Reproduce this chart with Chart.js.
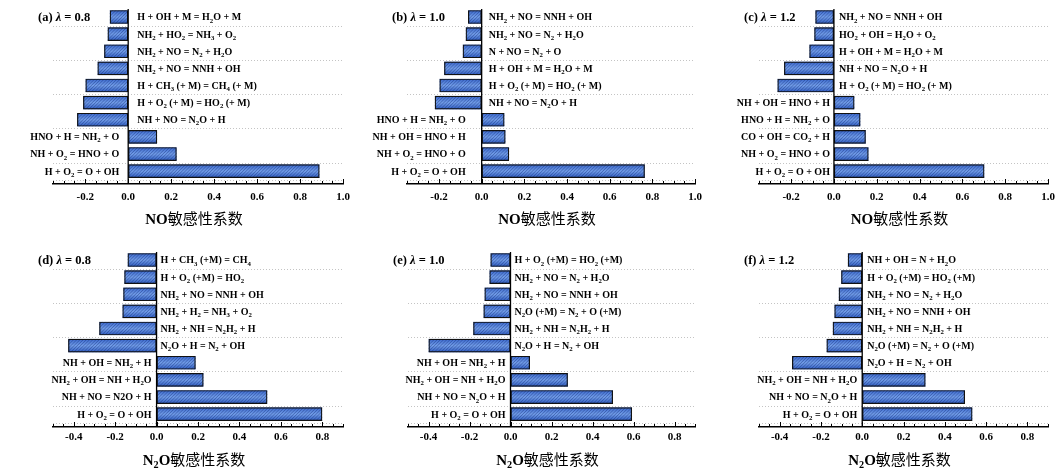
<!DOCTYPE html>
<html>
<head>
<meta charset="utf-8">
<script src="https://cdn.jsdelivr.net/npm/chart.js@4.4.1/dist/chart.umd.min.js"></script>
<style>
html, body { margin: 0; padding: 0; background: #fff; overflow: hidden; }
#wrap { position: relative; width: 1058px; height: 470px; }
#wrap canvas { position: absolute; left: 0; top: 0; }
</style>
</head>
<body>
<div id="wrap">
  <canvas id="pa" width="1058" height="470"></canvas>
  <canvas id="pb" width="1058" height="470"></canvas>
  <canvas id="pc" width="1058" height="470"></canvas>
  <canvas id="pd" width="1058" height="470"></canvas>
  <canvas id="pe" width="1058" height="470"></canvas>
  <canvas id="pf" width="1058" height="470"></canvas>
</div>
<script>
// --- Data (each list reads top bar -> bottom bar, "_x" = subscript) ---
const labelsA = ['H + OH + M = H_2O + M', 'NH_2 + HO_2 = NH_3 + O_2', 'NH_2 + NO = N_2 + H_2O', 'NH_2 + NO = NNH + OH',
  'H + CH_3 (+ M) = CH_4 (+ M)', 'H + O_2 (+ M) = HO_2 (+ M)', 'NH + NO = N_2O + H', 'HNO + H = NH_2 + O',
  'NH + O_2 = HNO + O', 'H + O_2 = O + OH'];
const valuesA = [-0.086, -0.096, -0.112, -0.143, -0.199, -0.21, -0.238, 0.135, 0.226, 0.891];

const labelsB = ['NH_2 + NO = NNH + OH', 'NH_2 + NO = N_2 + H_2O', 'N + NO = N_2 + O', 'H + OH + M = H_2O + M',
  'H + O_2 (+ M) = HO_2 (+ M)', 'NH + NO = N_2O + H', 'HNO + H = NH_2 + O', 'NH + OH = HNO + H',
  'NH + O_2 = HNO + O', 'H + O_2 = O + OH'];
const valuesB = [-0.064, -0.075, -0.089, -0.176, -0.198, -0.22, 0.107, 0.112, 0.129, 0.765];

const labelsC = ['NH_2 + NO = NNH + OH', 'HO_2 + OH = H_2O + O_2', 'H + OH + M = H_2O + M', 'NH + NO = N_2O + H',
  'H + O_2 (+ M) = HO_2 (+ M)', 'NH + OH = HNO + H', 'HNO + H = NH_2 + O', 'CO + OH = CO_2 + H',
  'NH + O_2 = HNO + O', 'H + O_2 = O + OH'];
const valuesC = [-0.087, -0.092, -0.115, -0.233, -0.264, 0.096, 0.124, 0.149, 0.162, 0.703];

const labelsD = ['H + CH_3 (+M) = CH_4', 'H + O_2 (+M) = HO_2', 'NH_2 + NO = NNH + OH', 'NH_2 + H_2 = NH_3 + O_2',
  'NH_2 + NH = N_2H_2 + H', 'N_2O + H = N_2 + OH', 'NH + OH = NH_2 + H', 'NH_2 + OH = NH + H_2O',
  'NH + NO = N2O + H', 'H + O_2 = O + OH'];
const valuesD = [-0.14, -0.156, -0.161, -0.165, -0.277, -0.427, 0.189, 0.227, 0.535, 0.80];

const labelsE = ['H + O_2 (+M) = HO_2 (+M)', 'NH_2 + NO = N_2 + H_2O', 'NH_2 + NO = NNH + OH', 'N_2O (+M) = N_2 + O (+M)',
  'NH_2 + NH = N_2H_2 + H', 'N_2O + H = N_2 + OH', 'NH + OH = NH_2 + H', 'NH_2 + OH = NH + H_2O',
  'NH + NO = N_2O + H', 'H + O_2 = O + OH'];
const valuesE = [-0.098, -0.103, -0.127, -0.132, -0.182, -0.40, 0.095, 0.28, 0.50, 0.593];

const labelsF = ['NH + OH = N + H_2O', 'H + O_2 (+M) = HO_2 (+M)', 'NH_2 + NO = N_2 + H_2O', 'NH_2 + NO = NNH + OH',
  'NH_2 + NH = N_2H_2 + H', 'N_2O (+M) = N_2 + O (+M)', 'N_2O + H = N_2 + OH', 'NH_2 + OH = NH + H_2O',
  'NH + NO = N_2O + H', 'H + O_2 = O + OH'];
const valuesF = [-0.07, -0.102, -0.114, -0.135, -0.143, -0.173, -0.34, 0.307, 0.498, 0.534];

const panelTags = ['(a)', '(b)', '(c)', '(d)', '(e)', '(f)'];
const lambdas = ['0.8', '1.0', '1.2', '0.8', '1.0', '1.2'];
const xTicksNO = [-0.2, 0.0, 0.2, 0.4, 0.6, 0.8, 1.0];
const xTicksN2O = [-0.4, -0.2, 0.0, 0.2, 0.4, 0.6, 0.8];
const xTitleNO = 'NO敏感性系数';
const xTitleN2O = 'N_2O敏感性系数';

// --- Layout ---
const W = 1058, H = 470;
const gridRows = [-0.5, 0.5, 2.5, 4.5, 6.5, 8.5];
const row1 = { top: 5, bottom: 184, tickPad: 7, titleDy: 35 };
const row2 = { top: 248, bottom: 427, tickPad: 4, titleDy: 33 };
const AXIS_H = 20;

const panels = [
  { id: 'pa', labels: labelsA, values: valuesA, ticks: xTicksNO, xmin: -0.35, xmax: 1.0, title: xTitleNO, left: 53, right: 343, row: row1, gapPos: 9, gapNeg: 9 },
  { id: 'pb', labels: labelsB, values: valuesB, ticks: xTicksNO, xmin: -0.35, xmax: 1.0, title: xTitleNO, left: 407, right: 695, row: row1, gapPos: 16, gapNeg: 7 },
  { id: 'pc', labels: labelsC, values: valuesC, ticks: xTicksNO, xmin: -0.35, xmax: 1.0, title: xTitleNO, left: 759, right: 1048, row: row1, gapPos: 4, gapNeg: 5 },
  { id: 'pd', labels: labelsD, values: valuesD, ticks: xTicksN2O, xmin: -0.5, xmax: 0.9, title: xTitleN2O, left: 53, right: 343, row: row2, gapPos: 5, gapNeg: 4 },
  { id: 'pe', labels: labelsE, values: valuesE, ticks: xTicksN2O, xmin: -0.5, xmax: 0.9, title: xTitleN2O, left: 408, right: 695, row: row2, gapPos: 5, gapNeg: 4 },
  { id: 'pf', labels: labelsF, values: valuesF, ticks: xTicksN2O, xmin: -0.5, xmax: 0.9, title: xTitleN2O, left: 759, right: 1048, row: row2, gapPos: 5, gapNeg: 5 }
];

// draw text with "_x" subscripts, italic lambda and CJK runs
function drawRich(ctx, text, x, y, size, align) {
  const segs = [];
  for (let i = 0; i < text.length; i++) {
    const ch = text[i];
    if (ch === '_') { segs.push({ t: text[i + 1], sub: true }); i++; continue; }
    const cjk = ch.charCodeAt(0) > 0x2e80;
    const ital = ch === 'λ';
    const last = segs[segs.length - 1];
    if (last && !last.sub && last.cjk === cjk && last.ital === ital) last.t += ch;
    else segs.push({ t: ch, sub: false, cjk: cjk, ital: ital });
  }
  const fontOf = s => s.cjk ? `${size}px "Noto Sans CJK SC"`
    : `${s.ital ? 'italic ' : ''}bold ${s.sub ? size * 0.68 : size}px "Liberation Serif"`;
  let w = 0;
  segs.forEach(s => { ctx.font = fontOf(s); s.w = ctx.measureText(s.t).width; w += s.w; });
  let cx = align === 'right' ? x - w : align === 'center' ? x - w / 2 : x;
  ctx.textAlign = 'left';
  ctx.textBaseline = 'alphabetic';
  ctx.fillStyle = '#000';
  const base = y + size * 0.34;
  segs.forEach(s => {
    ctx.font = fontOf(s);
    ctx.fillText(s.t, cx, s.sub ? base + size * 0.22 : base);
    cx += s.w;
  });
}

function makeDecor(p, n) {
  return {
    id: 'decor',
    beforeDatasetsDraw(chart) {
      const ctx = chart.ctx, a = chart.chartArea, ys = chart.scales.y;
      ctx.save();
      // dotted guide lines
      ctx.strokeStyle = '#c4c4c4';
      ctx.lineWidth = 1;
      ctx.setLineDash([1, 2]);
      gridRows.forEach(r => {
        const y = Math.round(ys.getPixelForValue(r)) + 0.5;
        ctx.beginPath(); ctx.moveTo(a.left, y); ctx.lineTo(a.right, y); ctx.stroke();
      });
      ctx.setLineDash([]);
      // gradient + hatch fill inside each bar
      chart.getDatasetMeta(0).data.forEach(bar => {
        const pr = bar.getProps(['x', 'y', 'base', 'height'], true);
        const l = Math.min(pr.x, pr.base), r = Math.max(pr.x, pr.base);
        const t = pr.y - pr.height / 2, b = pr.y + pr.height / 2;
        const g = ctx.createLinearGradient(0, t, 0, b);
        g.addColorStop(0, '#3866cb');
        g.addColorStop(0.5, '#729de7');
        g.addColorStop(1, '#2b58bd');
        ctx.save();
        ctx.beginPath(); ctx.rect(l, t, r - l, b - t); ctx.clip();
        ctx.fillStyle = g;
        ctx.fillRect(l, t, r - l, b - t);
        ctx.strokeStyle = 'rgba(18, 40, 115, 0.45)';
        ctx.lineWidth = 0.9;
        ctx.beginPath();
        const hgt = b - t;
        for (let k = l - hgt; k < r; k += 3.2) { ctx.moveTo(k, b); ctx.lineTo(k + hgt, t); }
        ctx.stroke();
        ctx.restore();
      });
      ctx.restore();
    },
    afterDatasetsDraw(chart) {
      const ctx = chart.ctx, a = chart.chartArea, xs = chart.scales.x, ys = chart.scales.y;
      ctx.save();
      const x0 = xs.getPixelForValue(0);
      // zero line
      ctx.strokeStyle = '#000';
      ctx.lineWidth = 1.3;
      ctx.beginPath(); ctx.moveTo(x0, a.top + 4); ctx.lineTo(x0, a.bottom); ctx.stroke();
      // inward ticks
      ctx.lineWidth = 1;
      for (let k = Math.ceil(p.xmin * 20 - 1e-6); k <= Math.floor(p.xmax * 20 + 1e-6); k++) {
        const x = Math.round(xs.getPixelForValue(k / 20)) + 0.5;
        const len = k % 4 === 0 ? 5 : 3;
        ctx.beginPath(); ctx.moveTo(x, a.bottom); ctx.lineTo(x, a.bottom - len); ctx.stroke();
      }
      // reaction labels
      p.labels.forEach((lab, k) => {
        const v = p.values[k];
        const y = ys.getPixelForValue(p.values.length - 1 - k);
        if (v < 0) drawRich(ctx, lab, x0 + p.gapNeg, y, 10, 'left');
        else drawRich(ctx, lab, x0 - p.gapPos, y, 10, 'right');
      });
      // panel tag
      drawRich(ctx, panelTags[n] + ' λ = ' + lambdas[n], a.left - 15, ys.getPixelForValue(9), 12.5, 'left');
      // axis title
      drawRich(ctx, p.title, (a.left + a.right) / 2 - 4, a.bottom + p.row.titleDy, 15, 'center');
      ctx.restore();
    }
  };
}

panels.forEach((p, n) => {
  new Chart(document.getElementById(p.id), {
    type: 'bar',
    data: {
      datasets: [{
        data: p.values.map((v, k) => ({ x: v, y: p.values.length - 1 - k })),
        backgroundColor: 'rgba(0,0,0,0)',
        borderColor: '#111',
        borderWidth: 1.2,
        borderSkipped: false,
        barPercentage: 0.8,
        categoryPercentage: 1
      }]
    },
    options: {
      indexAxis: 'y',
      responsive: false,
      animation: false,
      devicePixelRatio: 1,
      layout: {
        autoPadding: false,
        padding: { left: p.left, right: W - p.right, top: p.row.top, bottom: H - p.row.bottom - AXIS_H }
      },
      plugins: { legend: { display: false }, tooltip: { enabled: false } },
      scales: {
        x: {
          type: 'linear',
          min: p.xmin,
          max: p.xmax,
          afterBuildTicks: s => { s.ticks = p.ticks.map(v => ({ value: v })); },
          afterFit: s => { s.height = AXIS_H; s.paddingLeft = 0; s.paddingRight = 0; },
          ticks: {
            padding: p.row.tickPad,
            color: '#000',
            font: { family: '"Liberation Serif"', size: 11, weight: 'bold' },
            callback: v => v.toFixed(1)
          },
          grid: { display: false, drawTicks: false },
          border: { display: true, color: '#000', width: 1.5 }
        },
        y: { type: 'linear', min: -0.75, max: 9.7, offset: false, display: false, grid: { offset: false } }
      }
    },
    plugins: [makeDecor(p, n)]
  });
});
</script>
</body>
</html>
